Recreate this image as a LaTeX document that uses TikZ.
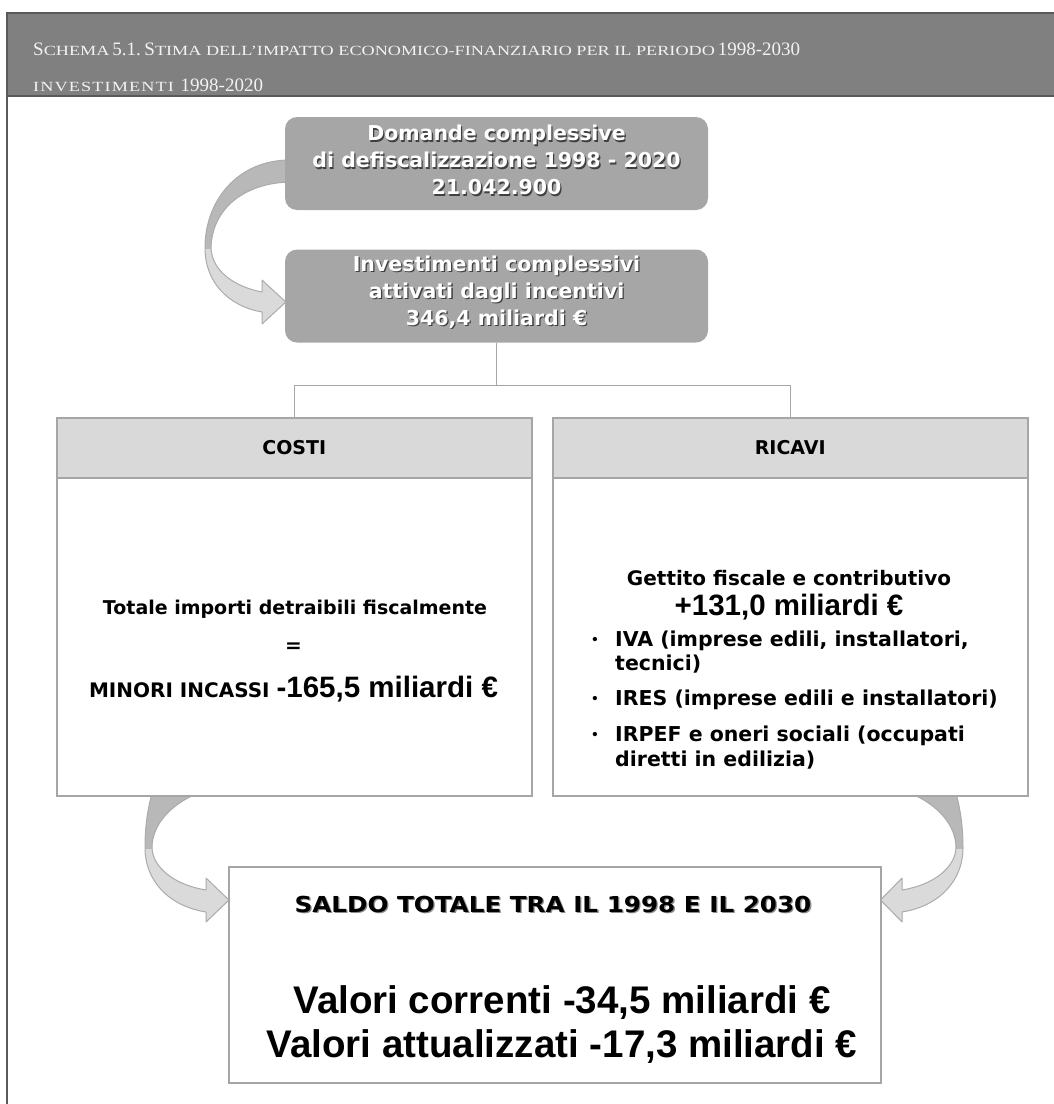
\documentclass[tikz,border=0pt]{standalone}
\usepackage{fontspec}
\setmainfont{Liberation Sans}
\newfontfamily\hdfont{Liberation Serif}
\newfontfamily\hdscfont[FakeStretch=1.3]{Liberation Serif}
\newfontfamily\hdscwide[FakeStretch=1.3,LetterSpace=8]{Liberation Serif}
\newfontfamily\heavy{DejaVu Sans}
\newfontfamily\heavywide[FakeStretch=1.12]{DejaVu Sans}
\usetikzlibrary{calc}
\definecolor{hdband}{HTML}{808080}
\definecolor{hdline}{HTML}{595959}
\definecolor{hdtxt}{HTML}{F2F2F2}
\definecolor{boxgray}{HTML}{A6A6A6}
\definecolor{lightg}{HTML}{D9D9D9}
\definecolor{lineg}{HTML}{A6A6A6}
\definecolor{arrdark}{HTML}{B8B8B8}
\definecolor{arrlight}{HTML}{DADADA}
\definecolor{arredge}{HTML}{ABABAB}
\definecolor{shadowc}{HTML}{404040}
\definecolor{shadowl}{HTML}{8C8C8C}
\newcommand\fs[2]{\fontsize{#1}{#2}\selectfont}
\newcommand\shtext[2]{\makebox[0pt][l]{\kern1.3pt\raisebox{-1.3pt}{\textcolor{#1}{#2}}}#2}
\newcommand\hdB[1]{{\hdfont\fontsize{19}{19}\selectfont #1}}
\newcommand\hdS[1]{{\hdscfont\fontsize{14}{14}\selectfont #1}}
\newcommand\hdSw[1]{{\hdscwide\fontsize{14}{14}\selectfont #1}}
\pgfdeclarelayer{bg}
\pgfsetlayers{bg,main}
\begin{document}
\begin{tikzpicture}[x=1pt,y=-1pt,
  hdtext/.style={text=hdtxt, inner sep=0pt},
  topbox/.style={fill=boxgray, rounded corners=12pt, minimum width=423pt, minimum height=93pt, inner sep=0pt},
  toptext/.style={text=white, font=\heavy\bfseries\fs{20.5}{27}, align=center, inner sep=0pt},
  panel/.style={draw=lineg, line width=1.5pt, fill=white, inner sep=0pt},
  panelhead/.style={draw=lineg, line width=1.5pt, fill=lightg, minimum width=475pt, minimum height=60pt, inner sep=0pt, font=\heavy\bfseries\fs{19}{19}},
  conn/.style={draw=lineg, line width=1.5pt},
  btext/.style={font=\heavy\bfseries\fs{20}{20}, inner sep=0pt},
  bultext/.style={font=\heavy\bfseries\fs{20.5}{20.5}, inner sep=0pt, anchor=west},
  bigbold/.style={font=\bfseries\fs{29.5}{29.5}, inner sep=0pt},
  ribbonedge/.style={draw=arredge, line width=1pt, line join=round}
]
\useasboundingbox (0,0) rectangle (1054,1104);
% header band and frame
\fill[hdband] (6,13) rectangle (1054,96);
\draw[hdline,line width=2pt] (6,13) -- (1054,13) (6,96) -- (1054,96);
\draw[hdline,line width=2pt] (7,12) -- (7,1104);
\node[hdtext, anchor=base west] (t1) at (33,55) {\hdB{S}\hdS{CHEMA} \hdB{5.1.} \hdB{S}\hdS{TIMA DELL’IMPATTO ECONOMICO-FINANZIARIO PER IL PERIODO} \hdB{1998-2030}};
\node[hdtext, anchor=base west] (t2) at (33,91) {\hdSw{INVESTIMENTI}\hspace{4pt} \hdB{1998-2020}};
% top boxes
\node[topbox] (b1) at (496.5,163.5) {};
\node[toptext] (b1t) at (496.5,161) {\shtext{shadowc}{Domande complessive}\\ \shtext{shadowc}{di defiscalizzazione 1998 - 2020}\\ \shtext{shadowc}{21.042.900}};
\node[topbox] (b2) at (496.5,296) {};
\node[toptext] (b2t) at (496.5,293) {\shtext{shadowc}{Investimenti complessivi}\\ \shtext{shadowc}{attivati dagli incentivi}\\ \shtext{shadowc}{346,4 miliardi €}};
% panels
\node[panel, minimum width=475pt, minimum height=378pt, anchor=north west] (costi) at (56,417) {};
\node[panelhead, anchor=north west] (costih) at (56,417) {COSTI};
\node[panel, minimum width=475pt, minimum height=378pt, anchor=north west] (ricavi) at (552,417) {};
\node[panelhead, anchor=north west] (ricavih) at (552,417) {RICAVI};
% connectors
\draw[conn] (b2.south) -- ++(0,43) coordinate (hub);
\draw[conn] (costih.north) |- (hub) -| (ricavih.north);
% COSTI text
\node[btext, font=\heavy\bfseries\fs{19}{19}] (c1) at (295,609) {Totale importi detraibili fiscalmente};
\node[btext] (c2) at (293.5,648) {=};
\node[btext] (c3) at (293.5,689) {MINORI INCASSI {\fontspec{Liberation Sans}\bfseries\fs{29.5}{29.5}-165,5 miliardi €}};
% RICAVI text
\node[btext] (r1) at (789,578) {Gettito fiscale e contributivo};
\node[bigbold] (r2) at (789,607) {+131,0 miliardi €};
\foreach \yy/\nm in {641/a,700/b,736/c}{
  \node[inner sep=0pt, font=\bfseries\fs{15}{15}] (bul\nm) at (595,\yy) {•};
}
\node[bultext] (r3) at (615,641) {IVA (imprese edili, installatori,};
\node[bultext] (r4) at (615,664) {tecnici)};
\node[bultext] (r5) at (615,700) {IRES (imprese edili e installatori)};
\node[bultext] (r6) at (615,736) {IRPEF e oneri sociali (occupati};
\node[bultext] (r7) at (615,760) {diretti in edilizia)};
% saldo
\node[panel, minimum width=652pt, minimum height=216pt, anchor=north west] (saldo) at (228,866) {};
\node[inner sep=0pt, font=\heavywide\bfseries\fs{22}{22}] (s1) at (553,905) {\shtext{shadowl}{SALDO TOTALE TRA IL 1998 E IL 2030}};
\node[inner sep=0pt, font=\bfseries\fs{38.5}{38.5}] (s2) at (562,1003) {Valori correnti -34,5 miliardi €};
\node[inner sep=0pt, font=\bfseries\fs{38.5}{38.5}] (s3) at (562,1047) {Valori attualizzati -17,3 miliardi €};
% tips of curved arrows
\coordinate (tipT) at ([shift={(1,6)}]b2.west);
\coordinate (tipL) at ([shift={(1,34)}]saldo.north west);
\coordinate (tipR) at ([shift={(-1,34)}]saldo.north east);
\def\toppath{(290,160) .. controls (238,160) and (205,200) .. (205,248) .. controls (205,282) and (228,306) .. (262,312) -- (262,324) -- (tipT) -- (262,280) -- (262,292) .. controls (236,287) and (212,272) .. (211,248) .. controls (212,208) and (245,183) .. (290,182) -- cycle}
\def\leftpath{(198,793) .. controls (170,805) and (152,825) .. (152,848) .. controls (153,868) and (175,885) .. (206,890) -- (206,878) -- (tipL) -- (206,922) -- (206,912) .. controls (168,906) and (145,880) .. (145,848) .. controls (145,825) and (148,808) .. (152,793) -- cycle}
\def\rightpath{(910,793) .. controls (938,805) and (956,825) .. (956,848) .. controls (955,868) and (933,885) .. (902,890) -- (902,878) -- (tipR) -- (902,922) -- (902,912) .. controls (940,906) and (963,880) .. (963,848) .. controls (963,825) and (960,808) .. (956,793) -- cycle}
\begin{pgfonlayer}{bg}
  \fill[arrlight] \toppath;
  \begin{scope}\clip (100,100) rectangle (300,248); \fill[arrdark] \toppath; \end{scope}
  \draw[ribbonedge] \toppath;
  \fill[arrlight] \leftpath;
  \begin{scope}\clip (100,780) rectangle (300,848); \fill[arrdark] \leftpath; \end{scope}
  \draw[ribbonedge] \leftpath;
  \fill[arrlight] \rightpath;
  \begin{scope}\clip (800,780) rectangle (1000,848); \fill[arrdark] \rightpath; \end{scope}
  \draw[ribbonedge] \rightpath;
\end{pgfonlayer}
\end{tikzpicture}
\end{document}
